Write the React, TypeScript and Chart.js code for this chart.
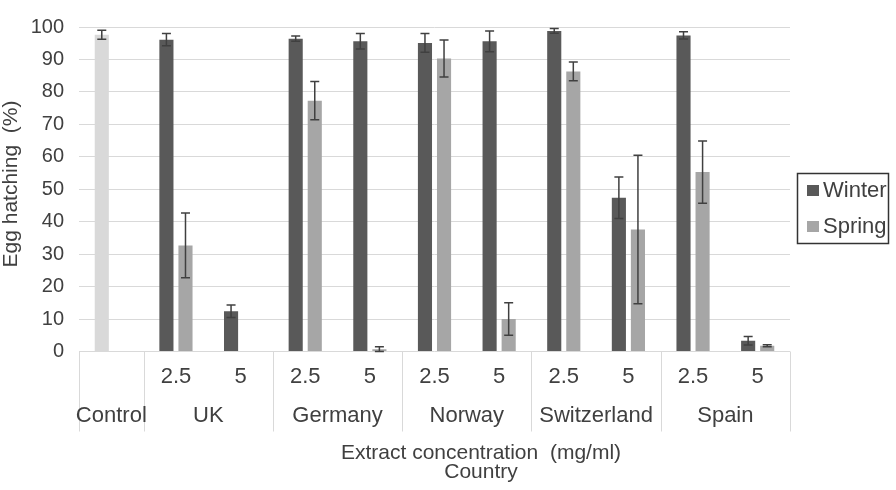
import React, { useEffect, useRef } from 'react';
import { Chart, registerables } from 'chart.js';

Chart.register(...registerables);

const categoryKeys = ['Control', 'UK 2.5', 'UK 5', 'Germany 2.5', 'Germany 5', 'Norway 2.5', 'Norway 5', 'Switzerland 2.5', 'Switzerland 5', 'Spain 2.5', 'Spain 5'];
const concLabels = ['', '2.5', '5', '2.5', '5', '2.5', '5', '2.5', '5', '2.5', '5'];
const countries = ['Control', 'UK', 'Germany', 'Norway', 'Switzerland', 'Spain'];
const countrySpans = [1, 2, 2, 2, 2, 2];

const winter = [97.6, 96.1, 12.4, 96.4, 95.6, 95.1, 95.6, 98.8, 47.4, 97.4, 3.3];
const winterErr = [1.4, 1.9, 1.9, 0.8, 2.4, 2.9, 3.2, 0.7, 6.4, 1.1, 1.3];
const spring = [null, 32.7, null, 77.3, 0.7, 90.3, 10, 86.3, 37.6, 55.3, 1.8];
const springErr = [null, 10, null, 5.9, 0.8, 5.7, 5, 2.9, 22.9, 9.6, 0.3];

const yTicksMin = 0;
const yTicksMax = 100;
const yTicksStep = 10;

const WINTER_COLOR = '#595959';
const SPRING_COLOR = '#a6a6a6';
const CONTROL_COLOR = '#d9d9d9';
const TEXT_COLOR = '#404040';
const FONT = '"Liberation Sans", Arial, sans-serif';

const errorsByDataset = [winterErr, springErr];

const extrasPlugin = {
  id: 'extras',
  afterDatasetsDraw(chart: any) {
    const ctx = chart.ctx;
    const yScale = chart.scales.y;
    ctx.save();
    ctx.strokeStyle = '#404040';
    ctx.lineWidth = 1.5;
    chart.data.datasets.forEach((ds: any, di: number) => {
      const meta = chart.getDatasetMeta(di);
      const errs = errorsByDataset[di];
      meta.data.forEach((bar: any, i: number) => {
        const v = ds.data[i];
        const e = errs[i];
        if (v == null || e == null) return;
        const x = bar.x;
        const yTop = yScale.getPixelForValue(v + e);
        const yBot = yScale.getPixelForValue(Math.max(0, v - e));
        const half = 4.5;
        ctx.beginPath();
        ctx.moveTo(x, yTop);
        ctx.lineTo(x, yBot);
        ctx.moveTo(x - half, yTop);
        ctx.lineTo(x + half, yTop);
        ctx.moveTo(x - half, yBot);
        ctx.lineTo(x + half, yBot);
        ctx.stroke();
      });
    });
    ctx.restore();
  },
  afterDraw(chart: any) {
    const ctx = chart.ctx;
    const area = chart.chartArea;
    const xScale = chart.scales.x;
    const n = categoryKeys.length;
    const step = (area.right - area.left) / n;
    const bottom = area.bottom;
    ctx.save();

    // table separators
    ctx.strokeStyle = '#d9d9d9';
    ctx.lineWidth = 1;
    let idx = 0;
    const bounds: number[] = [area.left];
    countrySpans.forEach((s) => {
      idx += s;
      bounds.push(area.left + step * idx);
    });
    bounds.forEach((bx) => {
      const px = Math.round(bx) + 0.5;
      ctx.beginPath();
      ctx.moveTo(px, bottom);
      ctx.lineTo(px, bottom + 80);
      ctx.stroke();
    });

    // concentration labels
    ctx.fillStyle = TEXT_COLOR;
    ctx.font = `22px ${FONT}`;
    ctx.textAlign = 'center';
    ctx.textBaseline = 'middle';
    concLabels.forEach((l, i) => {
      if (!l) return;
      ctx.fillText(l, xScale.getPixelForValue(i), bottom + 25);
    });

    // country labels
    countries.forEach((c, gi) => {
      const cx = (bounds[gi] + bounds[gi + 1]) / 2;
      ctx.fillText(c, cx, bottom + 64);
    });

    // x-axis title
    ctx.font = `21px ${FONT}`;
    ctx.textBaseline = 'alphabetic';
    ctx.fillText('Extract concentration  (mg/ml)', 481, 459);
    ctx.fillText('Country', 481, 478);

    // y-axis title
    ctx.save();
    ctx.translate(17, 184);
    ctx.rotate(-Math.PI / 2);
    ctx.textAlign = 'center';
    ctx.textBaseline = 'alphabetic';
    ctx.fillText('Egg hatching  (%)', 0, 0);
    ctx.restore();

    // legend
    const lx = area.right + 7;
    const ly = 173;
    ctx.strokeStyle = '#333333';
    ctx.lineWidth = 1.5;
    ctx.strokeRect(lx + 0.5, ly + 0.5, 91, 70);
    const items = [
      { label: 'Winter', color: WINTER_COLOR },
      { label: 'Spring', color: SPRING_COLOR },
    ];
    ctx.font = `22px ${FONT}`;
    ctx.textAlign = 'left';
    ctx.textBaseline = 'middle';
    items.forEach((it, i) => {
      const cy = ly + 17 + i * 36;
      ctx.fillStyle = it.color;
      ctx.fillRect(lx + 10, cy - 5, 12, 11);
      ctx.fillStyle = TEXT_COLOR;
      ctx.fillText(it.label, lx + 26, cy + 1);
    });

    ctx.restore();
  },
};

export default function App() {
  const canvasRef = useRef<HTMLCanvasElement | null>(null);

  useEffect(() => {
    document.body.style.margin = '0';
    const canvas = canvasRef.current;
    if (!canvas) return;
    const chart = new Chart(canvas, {
      type: 'bar',
      data: {
        labels: categoryKeys,
        datasets: [
          {
            label: 'Winter',
            data: winter,
            backgroundColor: winter.map((_, i) => (i === 0 ? CONTROL_COLOR : WINTER_COLOR)),
            barPercentage: 0.74,
            categoryPercentage: 0.59,
          },
          {
            label: 'Spring',
            data: spring as any,
            backgroundColor: SPRING_COLOR,
            barPercentage: 0.74,
            categoryPercentage: 0.59,
          },
        ],
      },
      options: {
        animation: false,
        responsive: false,
        devicePixelRatio: 1,
        layout: { padding: { left: 0, top: 11, right: 106, bottom: 138.5 } },
        plugins: {
          legend: { display: false },
          tooltip: { enabled: false },
        },
        scales: {
          x: {
            display: false,
          },
          y: {
            min: yTicksMin,
            max: yTicksMax,
            border: { display: false },
            grid: { color: '#d9d9d9', lineWidth: 1, drawTicks: false },
            ticks: {
              stepSize: yTicksStep,
              color: TEXT_COLOR,
              font: { family: FONT, size: 20 },
              padding: 15,
            },
            afterFit(scale: any) {
              scale.width = 79;
            },
          },
        },
      },
      plugins: [extrasPlugin],
    });
    return () => chart.destroy();
  }, []);

  return (
    <div style={{ position: 'absolute', left: 0, top: 0, width: 896, height: 490 }}>
      <canvas ref={canvasRef} width={896} height={490} style={{ display: 'block' }} />
    </div>
  );
}
